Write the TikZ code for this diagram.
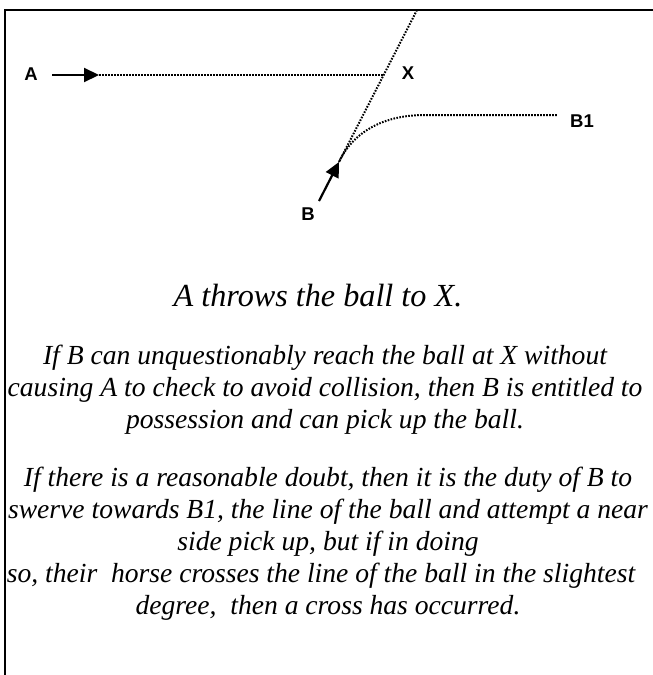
\documentclass[tikz,border=0pt]{standalone}
\usepackage{fontspec}
\setmainfont{Liberation Serif}
\newfontfamily\labelfont{Liberation Sans}
\usetikzlibrary{arrows.meta}
\tikzset{
    lbl/.style={inner sep=1pt, font=\labelfont\bfseries\fontsize{18.5}{22}\selectfont},
    para/.style={align=center, inner sep=0pt, font=\itshape\fontsize{27.6}{32}\selectfont},
    title/.style={inner sep=0pt, font=\itshape\fontsize{32.2}{36}\selectfont},
    frame/.style={line width=2pt},
    ballline/.style={line width=2pt, dash pattern=on 1.6pt off 1.4pt},
    arrow/.style={line width=2.2pt, -{Triangle[length=15pt, width=14pt]}}
}

\begin{document}
\begin{tikzpicture}[x=1pt, y=-1pt]
\useasboundingbox (0,0) rectangle (653,675);
\draw[frame] (5,675) -- (5,10) -- (653,10);
\node[lbl] (A) at (31,74) {A};
\node[lbl] (X) at (408,73) {X};
\node[lbl] (B1) at (582,121) {B1};
\node[lbl] (B) at (308,214) {B};
\coordinate (athrow) at (99,75);
\coordinate (xpt) at (383,75);
\coordinate (top) at (417,10);
\coordinate (bstart) at (339,162);
\coordinate (btail) at (319,201);
\coordinate (bend) at (425,115);
\coordinate (bone) at (557,115);
\draw[arrow] (52,75) -- (athrow);
\draw[ballline] (athrow) -- (xpt);
\draw[ballline] (top) -- (bstart);
\draw[ballline] (bstart) .. controls (348,142) and (372,115) .. (bend) -- (bone);
\draw[arrow] (btail) -- (bstart);
\node[title] (throw) at (318,296) {A throws the ball to X.};
\node[para] (rule1) at (325,390) {If B can unquestionably reach the ball at X without\\
causing A to check to avoid collision, then B is entitled to\\
possession and can pick up the ball.};
\node[para] (rule2) at (328,544) {If there is a reasonable doubt, then it is the duty of B to\\
swerve towards B1, the line of the ball and attempt a near\\
side pick up, but if in doing\\
\hspace*{-14pt}so, their\ \ horse crosses the line of the ball in the slightest\\
degree,\ \ then a cross has occurred.};
\end{tikzpicture}
\end{document}
